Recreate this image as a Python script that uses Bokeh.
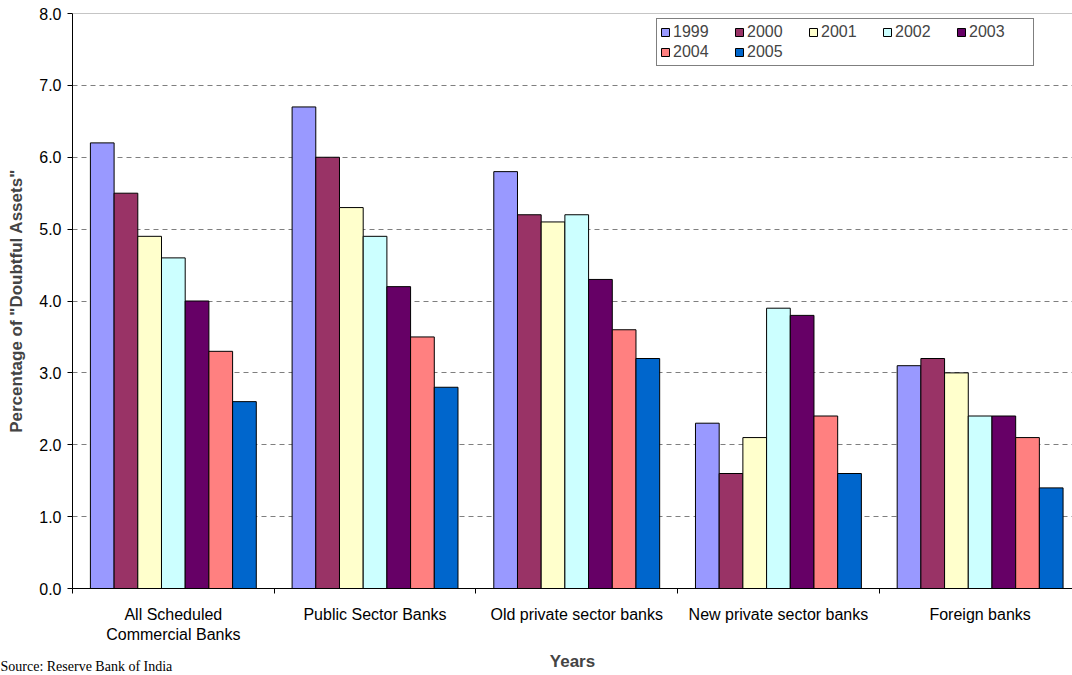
from bokeh.plotting import figure
from bokeh.models import (ColumnDataSource, FixedTicker, Legend, LegendItem,
                          Range1d, Span, Title, NumeralTickFormatter)
from bokeh.embed import file_html
from bokeh.resources import INLINE

# Share of "doubtful assets" by bank group, 1999-2005
categories = ["All Scheduled\nCommercial Banks", "Public Sector Banks",
              "Old private sector banks", "New private sector banks",
              "Foreign banks"]
years = ["1999", "2000", "2001", "2002", "2003", "2004", "2005"]
colors = ["#9999FF", "#993366", "#FFFFCC", "#CCFFFF", "#660066", "#FF8080", "#0066CC"]

values = {
    "1999": [6.2, 6.7, 5.8, 2.3, 3.1],
    "2000": [5.5, 6.0, 5.2, 1.6, 3.2],
    "2001": [4.9, 5.3, 5.1, 2.1, 3.0],
    "2002": [4.6, 4.9, 5.2, 3.9, 2.4],
    "2003": [4.0, 4.2, 4.3, 3.8, 2.4],
    "2004": [3.3, 3.5, 3.6, 2.4, 2.1],
    "2005": [2.6, 2.8, 3.2, 1.6, 1.4],
}
y_max = 8.0
y_ticks = [0, 1, 2, 3, 4, 5, 6, 7, 8]

FONT = "Liberation Sans"
BAR_W = 0.1175

p = figure(width=1072, height=675, output_backend="svg", toolbar_location=None,
           x_range=Range1d(0, 4.958), y_range=Range1d(0, y_max),
           min_border_left=72, min_border_right=0, min_border_top=13,
           min_border_bottom=87)
p.outline_line_color = None
p.background_fill_color = "white"
p.border_fill_color = "white"

centers = [i + 0.5 for i in range(len(categories))]
items = []
for j, (yr, col) in enumerate(zip(years, colors)):
    off = (j - (len(years) - 1) / 2) * BAR_W
    src = ColumnDataSource(dict(x=[c + off for c in centers], top=values[yr]))
    r = p.vbar(x="x", top="top", width=BAR_W, source=src, fill_color=col,
               line_color="black", line_width=1)
    items.append(LegendItem(label=yr, renderers=[r]))

# Y axis
p.yaxis.ticker = FixedTicker(ticks=y_ticks)
p.yaxis.formatter = NumeralTickFormatter(format="0.0")
p.yaxis.major_label_text_font = FONT
p.yaxis.major_label_text_font_size = "16px"
p.yaxis.major_label_text_color = "black"
p.yaxis.major_tick_in = 0
p.yaxis.major_tick_out = 5
p.yaxis.minor_tick_in = 0
p.yaxis.minor_tick_out = 0
p.yaxis.major_label_standoff = 6
p.yaxis.axis_line_color = "black"
p.yaxis.major_tick_line_color = "black"
p.yaxis.axis_label = 'Percentage of "Doubtful Assets"'
p.yaxis.axis_label_text_font = FONT
p.yaxis.axis_label_text_font_size = "17px"
p.yaxis.axis_label_text_font_style = "bold"
p.yaxis.axis_label_standoff = 10

# X axis: group labels at centres, boundary ticks as minor ticks
p.xaxis.ticker = FixedTicker(ticks=centers,
                             minor_ticks=list(range(len(categories) + 1)))
p.xaxis.major_label_overrides = {c: lab for c, lab in zip(centers, categories)}
p.xaxis.major_tick_in = 0
p.xaxis.major_tick_out = 0
p.xaxis.minor_tick_in = 0
p.xaxis.minor_tick_out = 5
p.xaxis.minor_tick_line_color = "black"
p.xaxis.axis_line_color = "black"
p.xaxis.major_label_text_font = FONT
p.xaxis.major_label_text_font_size = "16px"
p.xaxis.major_label_text_color = "black"
p.xaxis.major_label_standoff = 12
p.xaxis.axis_label = "Years"
p.xaxis.axis_label_text_font = FONT
p.xaxis.axis_label_text_font_size = "17px"
p.xaxis.axis_label_text_font_style = "bold"
p.xaxis.axis_label_standoff = 6

# Grid
p.xgrid.grid_line_color = None
p.ygrid.ticker = FixedTicker(ticks=y_ticks)
p.ygrid.grid_line_color = "#7f7f7f"
p.ygrid.grid_line_dash = "5 4"
p.ygrid.grid_line_width = 1
p.add_layout(Span(location=y_max, dimension="width", line_color="#8c8c8c",
                  line_width=1))

# Legend
legend = Legend(items=items, orientation="horizontal", ncols=5,
                location=(584, 522), label_text_font=FONT,
                label_text_font_size="16px", glyph_width=10, glyph_height=10,
                label_standoff=3, label_width=61, label_height=20, spacing=0,
                padding=3, margin=0, border_line_color="black",
                border_line_width=1, background_fill_alpha=1)
p.add_layout(legend)

# Source note under the axis
p.add_layout(Title(text="Source:  Reserve Bank of India", align="left",
                   vertical_align="top", offset=-72, standoff=-30,
                   text_font="Liberation Serif", text_font_size="14px",
                   text_font_style="normal", text_color="black"), "below")

open("out.html", "w").write(file_html(p, INLINE))
